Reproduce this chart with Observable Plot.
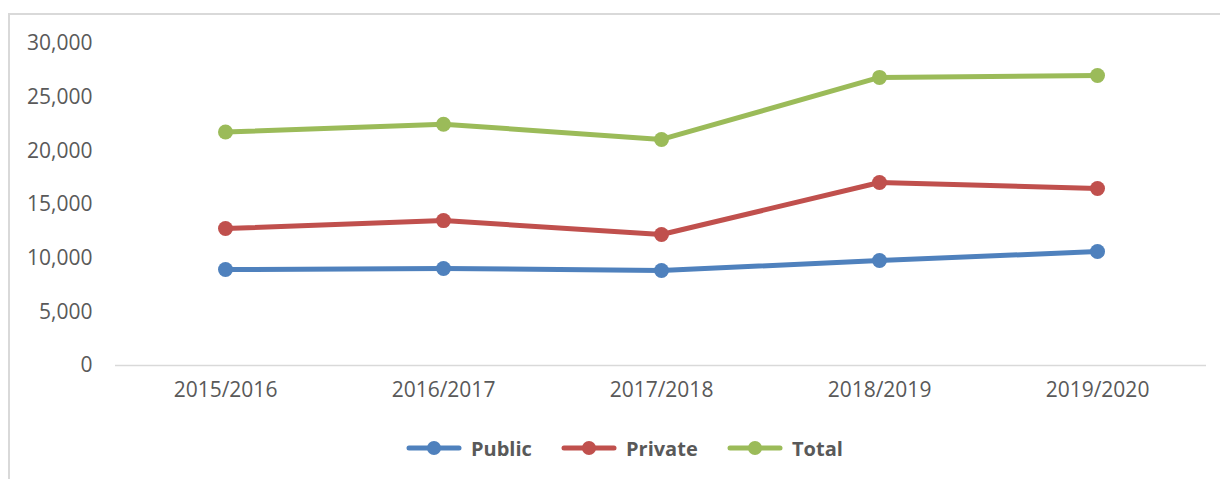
<!DOCTYPE html>
<html>
<head>
<meta charset="utf-8">
<script src="https://cdn.jsdelivr.net/npm/d3@7"></script>
<script src="https://cdn.jsdelivr.net/npm/@observablehq/plot@0.6"></script>
<style>
  html, body { margin: 0; padding: 0; background: #fff; }
  #wrap { position: relative; width: 1220px; height: 479px; overflow: hidden; font-family: "Open Sans", sans-serif; }
  #frame { position: absolute; left: 8px; top: 13px; width: 1230px; height: 500px; border: 2px solid #d9d9d9; box-sizing: border-box; }
  #chart { position: absolute; left: 0; top: 0; }
  #legend { position: absolute; left: 0; top: 430px; width: 1220px; height: 36px; }
  .item { position: absolute; top: 0; height: 36px; display: flex; align-items: center; }
  .item span { font-weight: 700; font-size: 20px; color: #595959; margin-left: 9px; }
</style>
</head>
<body>
<div id="wrap">
  <div id="frame"></div>
  <div id="chart"></div>
  <div id="legend"></div>
</div>
<script>
const years = ["2015/2016", "2016/2017", "2017/2018", "2018/2019", "2019/2020"];
const publicVals = [8940, 9040, 8850, 9780, 10620];
const privateVals = [12760, 13500, 12200, 17050, 16490];
const totalVals = [21750, 22480, 21060, 26840, 27020];
const seriesNames = ["Public", "Private", "Total"];
const seriesColors = ["#4F81BD", "#C0504D", "#9BBB59"];
const yTicks = [0, 5000, 10000, 15000, 20000, 25000, 30000];

const valueLists = [publicVals, privateVals, totalVals];
const data = [];
seriesNames.forEach((s, i) => years.forEach((y, j) => data.push({series: s, year: y, value: valueLists[i][j]})));

const fmt = d3.format(",");
const plot = Plot.plot({
  width: 1220,
  height: 420,
  marginLeft: 115,
  marginRight: 14,
  marginTop: 43,
  marginBottom: 55,
  style: {fontFamily: "Open Sans, sans-serif", fontSize: "21px", color: "#595959", background: "transparent"},
  x: {type: "band", domain: years, padding: 0, label: null},
  y: {domain: [0, 30000], label: null},
  color: {domain: seriesNames, range: seriesColors},
  marks: [
    Plot.axisY({ticks: yTicks, tickSize: 0, tickPadding: 23, tickFormat: fmt, fill: "#595959", fontSize: 21}),
    Plot.axisX({tickSize: 0, tickPadding: 17, fill: "#595959", fontSize: 21}),
    Plot.ruleY([0], {stroke: "#d9d9d9", strokeWidth: 1.5}),
    Plot.line(data, {x: "year", y: "value", z: "series", stroke: "series", strokeWidth: 5, strokeLinecap: "round", strokeLinejoin: "round"}),
    Plot.dot(data, {x: "year", y: "value", fill: "series", r: 7.5})
  ]
});
document.getElementById("chart").appendChild(plot);

const legend = document.getElementById("legend");
const lefts = [406, 561, 727];
seriesNames.forEach((s, i) => {
  const div = document.createElement("div");
  div.className = "item";
  div.style.left = lefts[i] + "px";
  div.innerHTML = `<svg width="56" height="20"><line x1="3" x2="53" y1="10" y2="10" stroke="${seriesColors[i]}" stroke-width="5" stroke-linecap="round"/><circle cx="28" cy="10" r="7" fill="${seriesColors[i]}"/></svg><span>${s}</span>`;
  legend.appendChild(div);
});
</script>
</body>
</html>
